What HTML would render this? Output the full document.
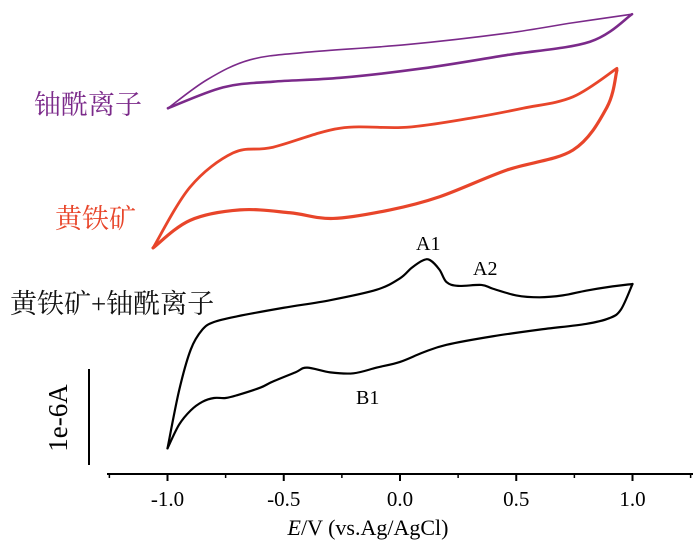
<!DOCTYPE html>
<html><head><meta charset="utf-8">
<style>
html,body{margin:0;padding:0;background:#fff;}
svg{display:block;}
.cjk{font-family:"Liberation Serif","Noto Serif CJK SC","Noto Sans CJK SC",serif;font-size:27px;}
.lab{font-family:"Liberation Serif",serif;}
</style></head>
<body>
<svg id="chart" width="700" height="551" viewBox="0 0 700 551" xmlns="http://www.w3.org/2000/svg">
<g id="axes"></g>
<g id="curves"></g>
<text class="cjk" x="34" y="114" fill="#7b2a8a">铀酰离子</text>
<text class="cjk" x="55" y="228" fill="#e8452a">黄铁矿</text>
<text class="cjk" x="10" y="313" fill="#111">黄铁矿+铀酰离子</text>
<text class="lab" x="416" y="250" font-size="20">A1</text>
<text class="lab" x="473" y="275" font-size="20">A2</text>
<text class="lab" x="356" y="404" font-size="20">B1</text>
<line x1="89" y1="369" x2="89" y2="465" stroke="#000" stroke-width="2"/>
<text class="lab" x="0" y="0" font-size="27" text-anchor="middle" transform="translate(67,418) rotate(-90)">1e-6A</text>
<text class="lab" x="368" y="535" font-size="22" text-anchor="middle"><tspan font-style="italic">E</tspan>/V (vs.Ag/AgCl)</text>
</svg>
<script>
const xTicks=[-1.0,-0.5,0.0,0.5,1.0];
const xTickLabels=["-1.0","-0.5","0.0","0.5","1.0"];
const minorTicks=[-1.25,-0.75,-0.25,0.25,0.75,1.25];
// black: pyrite + uranyl (current in µA, relative)
const blackUpperE=[-1.0,-0.95,-0.9,-0.85,-0.8,-0.7,-0.5,-0.3,-0.1,0,0.05,0.1,0.13,0.17,0.2,0.25,0.35,0.4,0.5,0.6,0.7,0.8,0.9,1.0];
const blackUpperI=[0.27,0.88,1.31,1.52,1.60,1.66,1.75,1.83,1.94,2.06,2.17,2.25,2.25,2.15,2.02,1.98,1.99,1.95,1.88,1.86,1.88,1.93,1.97,2.00];
const blackLowerE=[1.0,0.95,0.9,0.8,0.6,0.4,0.2,0.1,0,-0.1,-0.2,-0.3,-0.4,-0.45,-0.55,-0.6,-0.7,-0.75,-0.8,-0.85,-0.9,-0.95,-1.0];
const blackLowerI=[2.00,1.73,1.64,1.58,1.52,1.45,1.36,1.28,1.18,1.12,1.06,1.07,1.12,1.07,0.97,0.91,0.83,0.80,0.80,0.76,0.67,0.52,0.27];
// red: pyrite
const redUpperE=[-1.062,-0.903,-0.718,-0.546,-0.258,0.030,0.314,0.529,0.744,0.933];
const redUpperI=[2.38,3.02,3.38,3.44,3.64,3.65,3.75,3.85,3.97,4.27];
const redLowerE=[0.933,0.890,0.744,0.460,0.172,-0.043,-0.288,-0.473,-0.688,-0.903,-1.062];
const redLowerI=[4.25,3.86,3.41,3.20,2.92,2.78,2.69,2.75,2.78,2.67,2.38];
// purple: uranyl
const purpleUpperE=[-0.998,-0.830,-0.645,-0.400,0.030,0.460,0.744,0.998];
const purpleUpperI=[3.85,4.15,4.36,4.44,4.52,4.64,4.75,4.84];
const purpleLowerE=[0.998,0.817,0.460,0.099,-0.258,-0.546,-0.761,-0.998];
const purpleLowerI=[4.84,4.55,4.41,4.27,4.17,4.13,4.07,3.85];

const NS="http://www.w3.org/2000/svg";
const xs=e=>400+e*232.5;
const ys=i=>474-i*95;
function mk(t,a,p){const el=document.createElementNS(NS,t);for(const k in a)el.setAttribute(k,a[k]);p.appendChild(el);return el;}
const axes=document.getElementById('axes');
const axisLine=mk('line',{x1:107,y1:474,x2:693,y2:474,stroke:'#000','stroke-width':2},axes);


xTicks.forEach((v,k)=>{
  const t=mk('line',{x1:xs(v),y1:474,x2:xs(v),y2:481,stroke:'#000','stroke-width':2},axes);
  
  
  const l=mk('text',{x:xs(v),y:506,'text-anchor':'middle','font-size':21,'font-family':'Liberation Serif, serif'},axes);
  l.textContent=xTickLabels[k];
  
  
});
minorTicks.forEach(v=>{
  const t=mk('line',{x1:xs(v),y1:474,x2:xs(v),y2:478,stroke:'#000','stroke-width':1.5},axes);
  
  
});
function smooth(pts){
  let d=`M${pts[0][0]},${pts[0][1]}`;
  for(let i=0;i<pts.length-1;i++){
    const p0=pts[Math.max(0,i-1)],p1=pts[i],p2=pts[i+1],p3=pts[Math.min(pts.length-1,i+2)];
    const c1=[p1[0]+(p2[0]-p0[0])/6,p1[1]+(p2[1]-p0[1])/6];
    const c2=[p2[0]-(p3[0]-p1[0])/6,p2[1]-(p3[1]-p1[1])/6];
    d+=` C${c1[0]},${c1[1]} ${c2[0]},${c2[1]} ${p2[0]},${p2[1]}`;
  }
  return d;
}
const curves=document.getElementById('curves');
function draw(E,I,color,w,name){
  const pts=E.map((e,k)=>[xs(e),ys(I[k])]);
  const p=mk('path',{d:smooth(pts),fill:'none',stroke:color,'stroke-width':w,'stroke-linejoin':'round','stroke-linecap':'round'},curves);
  
  
}
draw(purpleUpperE,purpleUpperI,'#7b2a8a',1.6,'uranyl-forward-scan');
draw(purpleLowerE,purpleLowerI,'#7b2a8a',2.6,'uranyl-reverse-scan');
draw(redUpperE,redUpperI,'#e8452a',2.8,'pyrite-forward-scan');
draw(redLowerE,redLowerI,'#e8452a',3.2,'pyrite-reverse-scan');
draw(blackUpperE,blackUpperI,'#000',2.2,'mixed-forward-scan');
draw(blackLowerE,blackLowerI,'#000',2.2,'mixed-reverse-scan');
</script>
</body></html>
